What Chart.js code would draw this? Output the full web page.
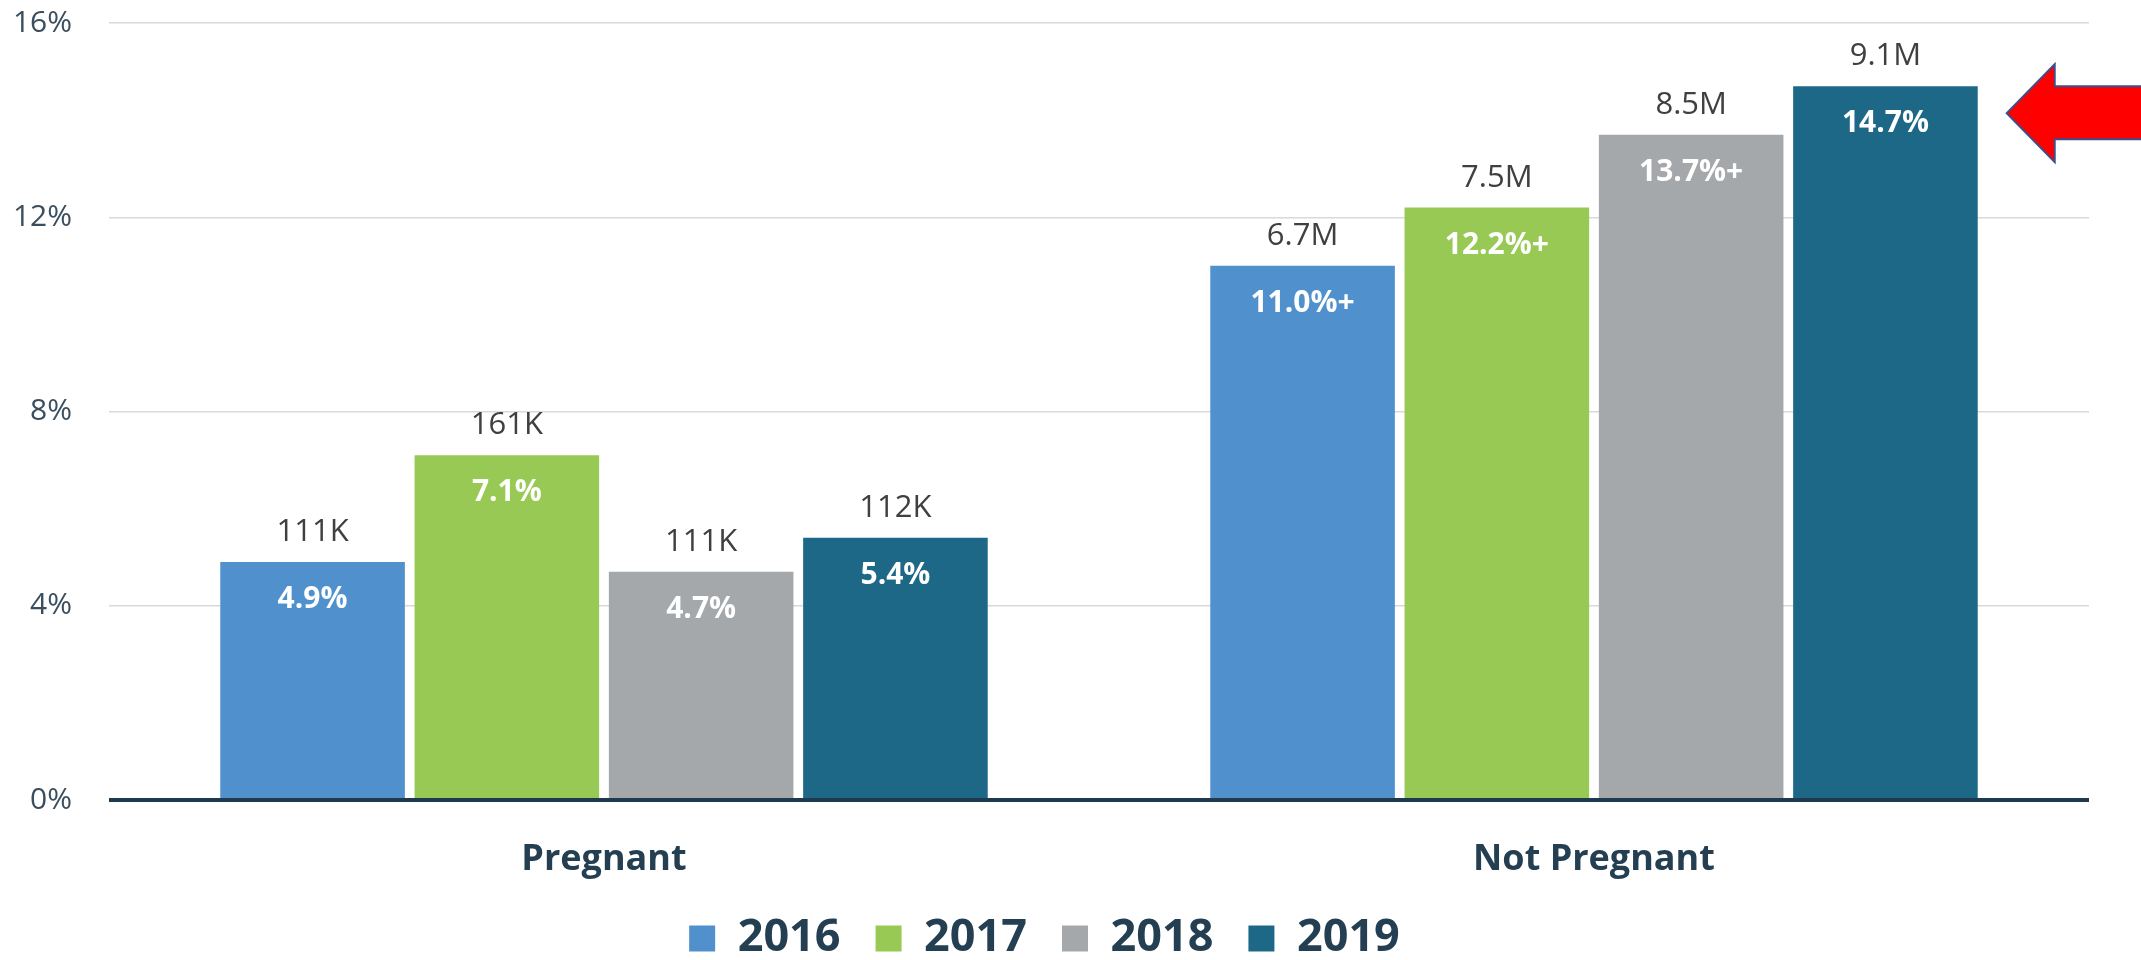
<!DOCTYPE html>
<html>
<head>
<meta charset="utf-8">
<script src="https://cdn.jsdelivr.net/npm/chart.js@4/dist/chart.umd.min.js"></script>
<style>
  html, body { margin:0; padding:0; background:#fff; }
  canvas { display:block; }
</style>
</head>
<body>
<canvas id="chart" width="2141" height="960"></canvas>
<script>
// données
const categories = ['Pregnant', 'Not Pregnant'];
const years = ['2016', '2017', '2018', '2019'];
const rate2016 = [4.9, 11.0];
const rate2017 = [7.1, 12.2];
const rate2018 = [4.7, 13.7];
const rate2019 = [5.4, 14.7];
const count2016 = ['111K', '6.7M'];
const count2017 = ['161K', '7.5M'];
const count2018 = ['111K', '8.5M'];
const count2019 = ['112K', '9.1M'];
const inner2016 = ['4.9%', '11.0%+'];
const inner2017 = ['7.1%', '12.2%+'];
const inner2018 = ['4.7%', '13.7%+'];
const inner2019 = ['5.4%', '14.7%'];
const yTicks = [0, 4, 8, 12, 16];

const colors = ['#4f90cd', '#98c954', '#a5a8ab', '#1c6886'];
const rates = [rate2016, rate2017, rate2018, rate2019];
const counts = [count2016, count2017, count2018, count2019];
const inners = [inner2016, inner2017, inner2018, inner2019];
const FONT = "'Open Sans', 'Noto Sans', sans-serif";

// étiquettes au-dessus et dans les barres + flèche rouge
const labelPlugin = {
  id: 'barLabels',
  afterDatasetsDraw(chart) {
    const ctx = chart.ctx;
    ctx.save();
    ctx.textAlign = 'center';
    ctx.textBaseline = 'alphabetic';
    chart.data.datasets.forEach((ds, di) => {
      const meta = chart.getDatasetMeta(di);
      meta.data.forEach((bar, i) => {
        ctx.font = '31px ' + FONT;
        ctx.fillStyle = '#404040';
        ctx.fillText(counts[di][i], bar.x, bar.y - 21);
        ctx.font = 'bold 30px ' + FONT;
        ctx.fillStyle = '#ffffff';
        ctx.fillText(inners[di][i], bar.x, bar.y + 46);
      });
    });
    ctx.restore();
  },
  afterDraw(chart) {
    // flèche à droite de la dernière barre
    const bar = chart.getDatasetMeta(3).data[1];
    const tipX = bar.x + bar.width / 2 + 29;
    const tipY = bar.y + 27;
    const ctx = chart.ctx;
    ctx.save();
    ctx.beginPath();
    ctx.moveTo(tipX, tipY);
    ctx.lineTo(tipX + 48, tipY - 49);
    ctx.lineTo(tipX + 48, tipY - 27);
    ctx.lineTo(chart.width + 10, tipY - 27);
    ctx.lineTo(chart.width + 10, tipY + 26);
    ctx.lineTo(tipX + 48, tipY + 26);
    ctx.lineTo(tipX + 48, tipY + 49);
    ctx.closePath();
    ctx.fillStyle = '#ff0000';
    ctx.fill();
    ctx.lineWidth = 2;
    ctx.strokeStyle = '#3a4f8c';
    ctx.stroke();
    ctx.restore();
  }
};

const datasets = years.map((y, i) => ({
  label: y,
  data: rates[i],
  backgroundColor: colors[i],
  borderWidth: 0,
  categoryPercentage: 0.785,
  barPercentage: 0.95
}));

new Chart(document.getElementById('chart').getContext('2d'), {
  type: 'bar',
  data: { labels: categories, datasets },
  plugins: [labelPlugin],
  options: {
    responsive: false,
    animation: false,
    layout: { padding: { top: 23, right: 52, left: 0, bottom: 0 } },
    plugins: {
      tooltip: { enabled: false },
      legend: {
        position: 'bottom',
        maxHeight: 79,
        labels: {
          boxWidth: 26, boxHeight: 26, padding: 35,
          color: '#243e52',
          font: { family: FONT, size: 45, weight: 'bold' }
        }
      }
    },
    scales: {
      x: {
        grid: { display: false, drawTicks: false },
        border: { display: false },
        ticks: { padding: 38, color: '#243e52', font: { family: FONT, size: 36, weight: 'bold' } },
        afterFit: (s) => { s.height = 81; }
      },
      y: {
        min: 0, max: 16,
        afterBuildTicks: (s) => { s.ticks = yTicks.map(v => ({ value: v })); },
        grid: {
          drawTicks: false,
          color: (c) => c.tick && c.tick.value === 0 ? '#1f3a4f' : '#d9d9d9',
          lineWidth: (c) => c.tick && c.tick.value === 0 ? 4 : 1.5
        },
        border: { display: false },
        ticks: {
          padding: 37,
          color: '#3a4e5e',
          font: { family: FONT, size: 30 },
          callback: (v) => v + '%'
        },
        // largeur fixe, pas de marge verticale ajoutée par les libellés
        afterFit: (s) => { s.width = 109; s.paddingTop = 0; s.paddingBottom = 0; }
      }
    }
  }
});
</script>
</body>
</html>
